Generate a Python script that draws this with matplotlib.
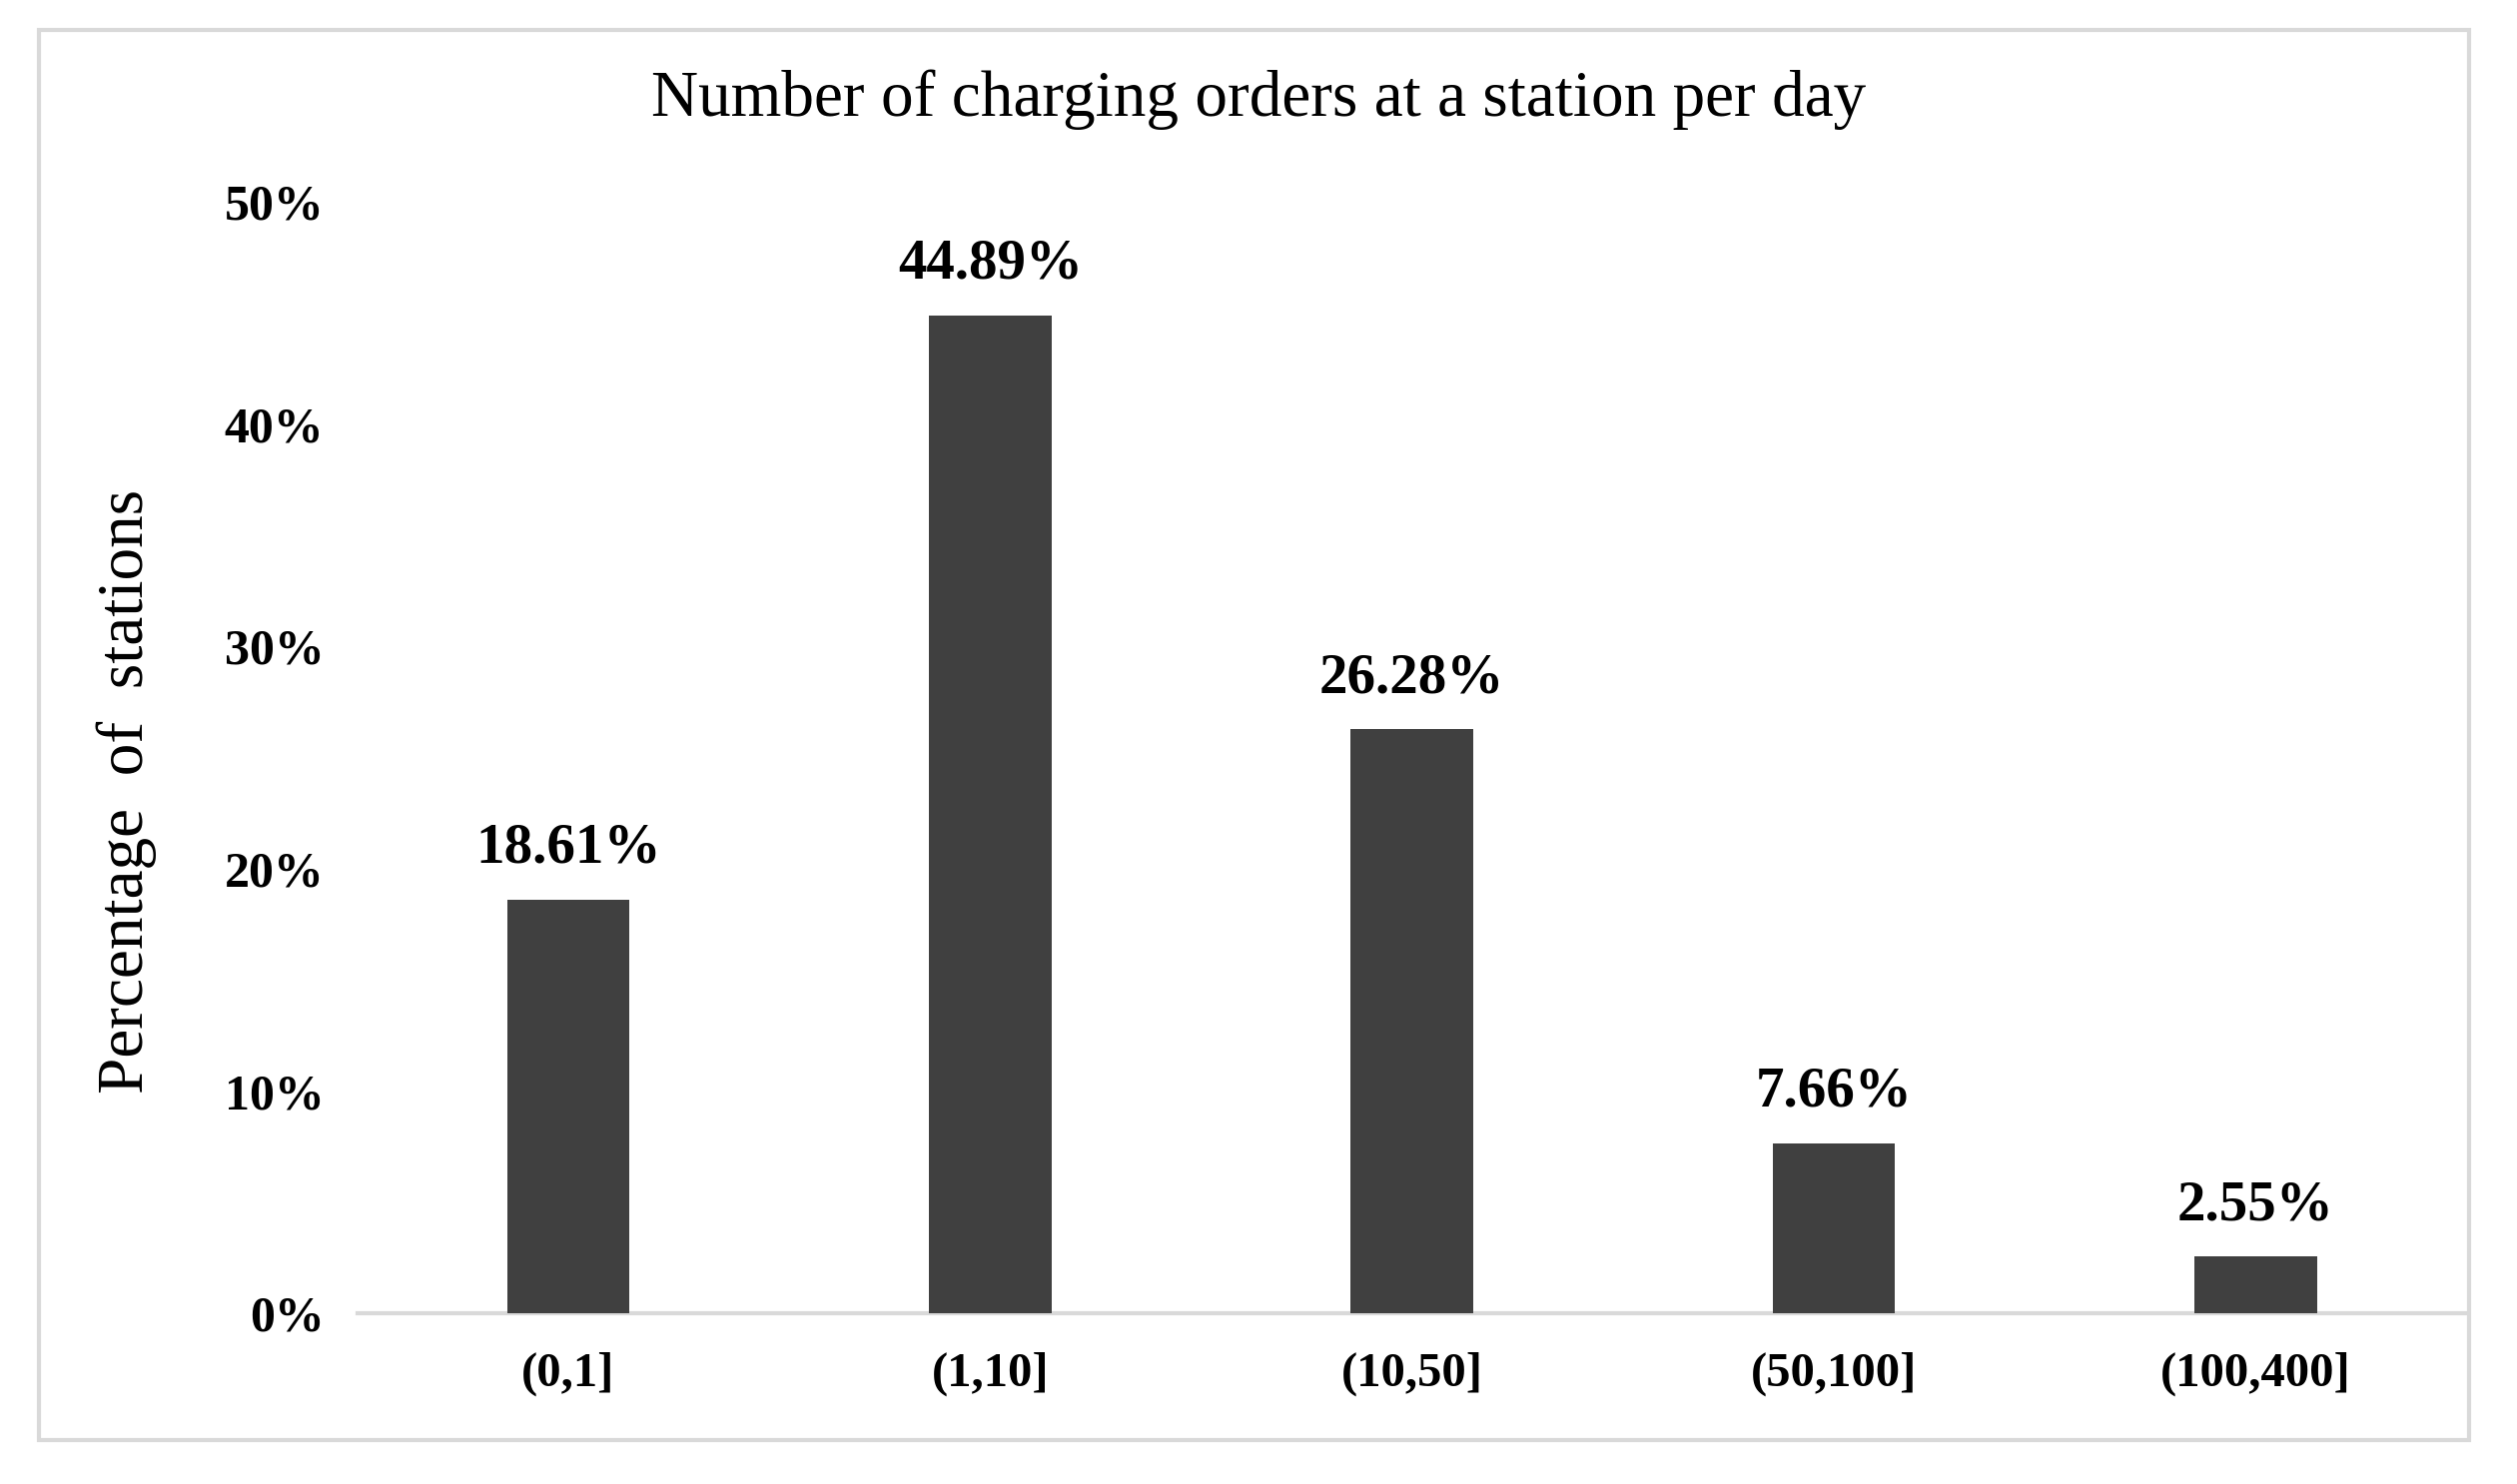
import matplotlib
matplotlib.use("Agg")
import matplotlib.pyplot as plt
from matplotlib.patches import Rectangle
import numpy as np

# Share of stations by number of charging orders per day
categories = ["(0,1]", "(1,10]", "(10,50]", "(50,100]", "(100,400]"]
percentages = [18.61, 44.89, 26.28, 7.66, 2.55]
y_ticks = [0, 10, 20, 30, 40, 50]

plt.rcParams["font.family"] = ["Liberation Serif", "DejaVu Serif"]

fig = plt.figure(figsize=(12.6, 7.43), dpi=200)
ax = fig.add_axes([0.142, 0.115, 0.838, 0.749])

x = np.arange(len(categories))
ax.bar(x, percentages, width=0.29, color="#404040", zorder=3)

# value labels above each bar
for xi, val in zip(x, percentages):
    ax.annotate("%.2f%%" % val, (xi, val), xytext=(0, 9), textcoords="offset points",
                ha="center", va="bottom", fontsize=20.5, fontweight="bold")

ax.set_xlim(-0.5, 4.5)
ax.set_ylim(0, 50)
ax.set_xticks(x)
ax.set_xticklabels(categories, fontsize=17.5, fontweight="bold")
ax.set_yticks(y_ticks)
ax.set_yticklabels(["%d%%" % t for t in y_ticks], fontsize=18, fontweight="bold")
ax.tick_params(axis="both", length=0)
ax.tick_params(axis="x", pad=14)
ax.tick_params(axis="y", pad=12)

for side in ["top", "right", "left"]:
    ax.spines[side].set_visible(False)
ax.spines["bottom"].set_color("#d9d9d9")
ax.spines["bottom"].set_linewidth(1.5)

ax.set_ylabel("Percentage  of  stations", fontsize=23.5)
ax.yaxis.set_label_coords(-0.095, 0.47)

fig.text(0.5, 0.933, "Number of charging orders at a station per day",
         ha="center", va="center", fontsize=23.5)

# light grey frame around the chart area
fig.patches.append(Rectangle((0.0155, 0.0296), 0.9655, 0.9504, transform=fig.transFigure,
                             fill=False, edgecolor="#d9d9d9", linewidth=1.5))

fig.savefig("out.png", dpi=200, facecolor="white")
